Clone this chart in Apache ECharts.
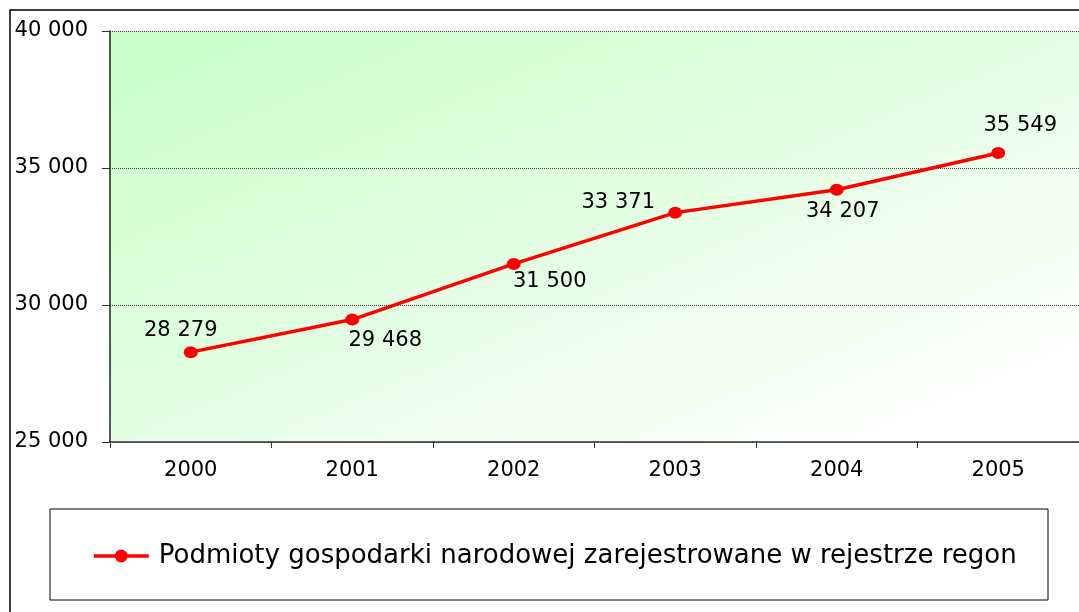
<!DOCTYPE html>
<html>
<head>
<meta charset="utf-8">
<script src="https://cdn.jsdelivr.net/npm/echarts@6/dist/echarts.min.js"></script>
<style>
  html, body { margin: 0; padding: 0; background: #fff; }
  #chart { width: 1079px; height: 612px; }
</style>
</head>
<body>
<div id="chart"></div>
<script>
const years = ['2000', '2001', '2002', '2003', '2004', '2005'];
const entities = [28279, 29468, 31500, 33371, 34207, 35549];
const seriesName = 'Podmioty gospodarki narodowej zarejestrowane w rejestrze regon';
const yTicks = [25000, 30000, 35000, 40000];

// label shifts relative to each marker (as placed in the original)
const labelShift = [[-10, -22], [33, 21], [36, 18], [-57, -10], [6, 22], [22, -27]];

const fmt = v => String(v).replace(/\B(?=(\d{3})+(?!\d))/g, ' ');
const font = 'DejaVu Sans';

const chart = echarts.init(document.getElementById('chart'));
chart.setOption({
  animation: false,
  textStyle: {fontFamily: font},
  graphic: [
    {type: 'rect', shape: {x: 10, y: 10, width: 2000, height: 2000},
      style: {fill: 'none', stroke: '#000', lineWidth: 1.5}, z: 0},
    {type: 'rect', shape: {x: 50, y: 509, width: 998, height: 91},
      style: {fill: 'none', stroke: '#000', lineWidth: 1}, z: 0}
  ],
  grid: {
    left: 110,
    right: -2,
    top: 31,
    bottom: 170,
    show: true,
    borderWidth: 0,
    // diagonal fade: dark green top-left, white bottom-right
    backgroundColor: new echarts.graphic.LinearGradient(0, 0, 0.305, 1.696, [
      {offset: 0, color: '#c8ffc8'},
      {offset: 0.5, color: '#e4fee4'},
      {offset: 0.9, color: '#ffffff'},
      {offset: 1, color: '#ffffff'}
    ])
  },
  legend: {
    data: [seriesName],
    left: 92,
    top: 543,
    padding: 0,
    itemWidth: 55,
    itemHeight: 16,
    lineStyle: {width: 3.5},
    textStyle: {fontFamily: font, fontSize: 26, color: '#000', padding: [0, 0, 0, 5]}
  },
  xAxis: {
    type: 'category',
    data: years,
    boundaryGap: true,
    axisLine: {lineStyle: {color: '#333', width: 1.5}},
    axisTick: {show: true, length: 6, lineStyle: {color: '#333'}},
    axisLabel: {fontSize: 21, color: '#000', margin: 18, fontFamily: font}
  },
  yAxis: {
    type: 'value',
    min: yTicks[0],
    max: yTicks[yTicks.length - 1],
    interval: 5000,
    axisLine: {show: true, lineStyle: {color: '#222', width: 1.5}},
    axisTick: {show: true, length: 8, lineStyle: {color: '#333'}},
    axisLabel: {fontSize: 21, color: '#000', margin: 22, fontFamily: font,
      formatter: v => fmt(v)},
    splitLine: {show: true, lineStyle: {color: '#444', type: 'dotted', width: 1}}
  },
  series: [{
    name: seriesName,
    type: 'line',
    data: entities.map((v, i) => ({
      value: v,
      label: {offset: labelShift[i]}
    })),
    symbol: 'circle',
    symbolSize: [14, 12],
    lineStyle: {color: '#ff0000', width: 3.5},
    itemStyle: {color: '#ff0000'},
    label: {
      show: true,
      position: 'inside',
      align: 'center',
      verticalAlign: 'middle',
      fontSize: 21,
      color: '#000',
      fontFamily: font,
      formatter: p => fmt(p.value)
    }
  }]
});
</script>
</body>
</html>
